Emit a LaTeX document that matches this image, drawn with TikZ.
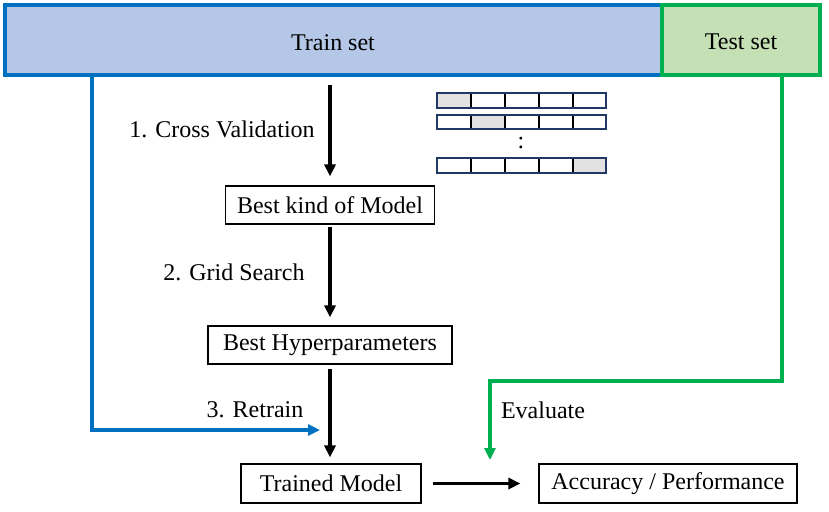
\documentclass[tikz,border=0pt]{standalone}
\usepackage{fontspec}
\setmainfont{Liberation Serif}
\usetikzlibrary{arrows.meta}
\definecolor{trainline}{HTML}{0070C0}
\definecolor{trainfill}{HTML}{B4C7E7}
\definecolor{testline}{HTML}{00B050}
\definecolor{testfill}{HTML}{C5E0B4}
\definecolor{foldline}{HTML}{1F3864}
\definecolor{foldfill}{HTML}{E2E2E2}
\tikzset{
    stage/.style={draw, line width=0.6pt, minimum height=19pt, inner sep=0pt},
    blk/.style={line width=1.8pt, -{Triangle[length=6pt, width=5.5pt]}},
    bluearr/.style={trainline, line width=1.7pt, -{Triangle[length=6pt, width=5.5pt]}},
    greenarr/.style={testline, line width=1.7pt, -{Triangle[length=6pt, width=5.5pt]}}
}

\begin{document}
\begin{tikzpicture}[x=0.5pt, y=-0.5pt, font=\fontsize{12}{14}\selectfont]
    \useasboundingbox (0,0) rectangle (829,511);
    % data split
    \node[draw=trainline, fill=trainfill, line width=2pt, minimum width=328.5pt, minimum height=35pt] at (333.5,40) (train) {};
    \node[draw=testline, fill=testfill, line width=2pt, minimum width=79pt, minimum height=35pt] at (741,40) (test) {};
    \node at (333,43) (trainlbl) {Train set};
    \node at (741,42) (testlbl) {Test set};
    % pipeline
    \node[stage, minimum width=104.5pt] at (330,205) (kind) {Best kind of Model};
    \node[stage, minimum width=122pt] at (330,345) (hyper) {Best Hyperparameters};
    \node[stage, minimum width=90pt, minimum height=19.5pt] at (331,483.5) (trained) {Trained Model};
    \node[stage, minimum width=129pt, minimum height=19.5pt] at (668,483.5) (acc) {Accuracy / Performance};
    \node at (222,129) (cv) {1. Cross Validation};
    \node at (234,272) (gs) {2. Grid Search};
    \node at (255,410) (rt) {3. Retrain};
    \node at (543,410) (ev) {Evaluate};
    \draw[blk, shorten <=4pt, shorten >=4.5pt] (train.south -| kind.north) -- (kind.north);
    \draw[blk, shorten <=1.25pt, shorten >=4pt] (kind.south) -- (hyper.north);
    \draw[blk, shorten <=2pt, shorten >=3pt] (hyper.south) -- (hyper.south |- trained.north);
    \draw[blk, shorten <=5.5pt, shorten >=9pt] (trained.east) -- (acc.west);
    % side paths
    \coordinate (bl) at (92,430);
    \coordinate (rtin) at (320,430);
    \draw[bluearr] (train.south -| bl) -- (bl) -- (rtin);
    \coordinate (gr) at (782,381);
    \coordinate (evin) at (490,460);
    \draw[greenarr] (test.south -| gr) -- (gr) -| (evin);
    % folds
    \foreach \y/\s in {93/0, 114.5/1, 158/4} {
        \fill[foldfill] ({437+34*\s},\y) rectangle ++(34,14.5);
        \foreach \c in {1,...,4}
            \draw[line width=1pt] ({437+34*\c},\y) -- ++(0,14.5);
        \draw[foldline, line width=1pt] (437,\y) rectangle ++(169,14.5);
    }
    \node at (521,143) (dots) {:};
\end{tikzpicture}
\end{document}
